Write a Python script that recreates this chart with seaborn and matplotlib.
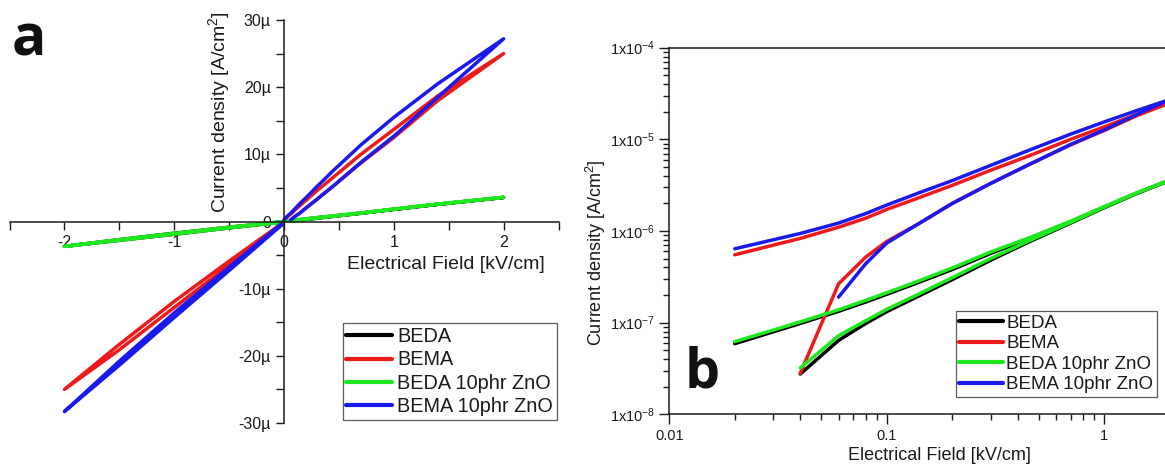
import numpy as np
import pandas as pd
import matplotlib
matplotlib.use("Agg")
import matplotlib.pyplot as plt
from matplotlib.lines import Line2D
from matplotlib.ticker import FixedLocator, MultipleLocator, LogLocator, NullFormatter
import seaborn as sns

sns.set_theme(style="ticks")
plt.rcParams["font.family"] = ["Liberation Sans", "DejaVu Sans"]
plt.rcParams["mathtext.default"] = "regular"

# ---------------- data ----------------
samples = ["BEDA", "BEMA", "BEDA 10phr ZnO", "BEMA 10phr ZnO"]
nan = np.nan

# positive field sweep [kV/cm]
E_pos = [0.02, 0.04, 0.06, 0.08, 0.1, 0.14, 0.2, 0.3, 0.45, 0.7, 1.0, 1.4, 2.0]
# current density [A/cm2], rising field (forward) and falling field (return)
J_beda_fwd = [nan, 2.75e-8, 6.4e-8, 9.8e-8, 1.32e-7, 1.95e-7, 2.95e-7, 4.8e-7, 7.6e-7, 1.22e-6, 1.8e-6, 2.55e-6, 3.58e-6]
J_beda_ret = [5.9e-8, 9.8e-8, 1.33e-7, 1.68e-7, 2.04e-7, 2.75e-7, 3.8e-7, 5.7e-7, 8.2e-7, 1.26e-6, 1.82e-6, 2.57e-6, 3.58e-6]
J_bema_fwd = [nan, 2.8e-8, 2.65e-7, 5.2e-7, 7.7e-7, 1.2e-6, 2.0e-6, 3.3e-6, 5.3e-6, 8.7e-6, 1.25e-5, 1.8e-5, 2.5e-5]
J_bema_ret = [5.5e-7, 8.3e-7, 1.1e-6, 1.38e-6, 1.72e-6, 2.3e-6, 3.15e-6, 4.6e-6, 6.6e-6, 1.0e-5, 1.37e-5, 1.87e-5, 2.5e-5]
J_bedaz_fwd = [nan, 3.2e-8, 7.2e-8, 1.05e-7, 1.4e-7, 2.05e-7, 3.1e-7, 5.0e-7, 7.8e-7, 1.24e-6, 1.82e-6, 2.57e-6, 3.6e-6]
J_bedaz_ret = [6.2e-8, 1.02e-7, 1.38e-7, 1.75e-7, 2.12e-7, 2.85e-7, 3.95e-7, 5.9e-7, 8.4e-7, 1.28e-6, 1.85e-6, 2.6e-6, 3.6e-6]
J_bemaz_fwd = [nan, nan, 1.9e-7, 4.4e-7, 7.4e-7, 1.2e-6, 2.0e-6, 3.3e-6, 5.3e-6, 8.8e-6, 1.27e-5, 1.85e-5, 2.72e-5]
J_bemaz_ret = [6.4e-7, 9.4e-7, 1.22e-6, 1.55e-6, 1.92e-6, 2.6e-6, 3.55e-6, 5.2e-6, 7.6e-6, 1.14e-5, 1.55e-5, 2.05e-5, 2.72e-5]

# negative field sweep [kV/cm]
E_neg = [-0.02, -0.5, -1.0, -1.5, -2.0]
J_beda_nfwd = [-0.05e-6, -0.85e-6, -1.75e-6, -2.7e-6, -3.7e-6]
J_beda_nret = [-0.1e-6, -0.95e-6, -1.9e-6, -2.8e-6, -3.7e-6]
J_bema_nfwd = [-0.3e-6, -5.9e-6, -11.9e-6, -18.3e-6, -25.0e-6]
J_bema_nret = [-0.5e-6, -6.5e-6, -12.8e-6, -19.1e-6, -25.0e-6]
J_bedaz_nfwd = [-0.05e-6, -0.85e-6, -1.75e-6, -2.7e-6, -3.7e-6]
J_bedaz_nret = [-0.1e-6, -0.95e-6, -1.9e-6, -2.8e-6, -3.7e-6]
J_bemaz_nfwd = [-0.3e-6, -6.8e-6, -13.6e-6, -20.8e-6, -28.3e-6]
J_bemaz_nret = [-0.5e-6, -7.3e-6, -14.3e-6, -21.4e-6, -28.3e-6]

x_ticks_a = [-2, -1, 0, 1, 2]
x_tick_labels_a = ["-2", "-1", "0", "1", "2"]
y_ticks_a = [-30, -20, -10, 0, 10, 20, 30]
y_tick_labels_a = ["-30\u00b5", "-20\u00b5", "-10\u00b5", "0", "10\u00b5", "20\u00b5", "30\u00b5"]
x_ticks_b = [0.01, 0.1, 1]
x_tick_labels_b = ["0.01", "0.1", "1"]
y_ticks_b = [1e-8, 1e-7, 1e-6, 1e-5, 1e-4]
y_tick_labels_b = [r"1x10$^{-8}$", r"1x10$^{-7}$", r"1x10$^{-6}$", r"1x10$^{-5}$", r"1x10$^{-4}$"]

colors = ["#000000", "#ee1a1a", "#1ee81e", "#1a1aee"]

fwd = [J_beda_fwd, J_bema_fwd, J_bedaz_fwd, J_bemaz_fwd]
ret = [J_beda_ret, J_bema_ret, J_bedaz_ret, J_bemaz_ret]
nfwd = [J_beda_nfwd, J_bema_nfwd, J_bedaz_nfwd, J_bemaz_nfwd]
nret = [J_beda_nret, J_bema_nret, J_bedaz_nret, J_bemaz_nret]

# long tables
loop_rows, branch_rows = [], []
for s, jf, jr, jnf, jnr in zip(samples, fwd, ret, nfwd, nret):
    seq = []
    seq += [(e, j) for e, j in zip(E_pos, jf) if not np.isnan(j)]
    seq += [(e, j) for e, j in zip(E_pos[::-1], jr[::-1])]
    seq += [(e, j) for e, j in zip(E_neg, jnf)]
    seq += [(e, j) for e, j in zip(E_neg[::-1], jnr[::-1])]
    for k, (e, j) in enumerate(seq):
        loop_rows.append(dict(sample=s, E=e, J=j * 1e6, order=k))
    for br, arr in (("forward", jf), ("return", jr)):
        for e, j in zip(E_pos, arr):
            if not np.isnan(j):
                branch_rows.append(dict(sample=s, branch=br, E=e, J=j))
loop_df = pd.DataFrame(loop_rows)
branch_df = pd.DataFrame(branch_rows)

W, H = 1165, 468
fig = plt.figure(figsize=(W / 100, H / 100), dpi=100)
txt = "#1a1a1a"
lw = 2.5

# ---------------- panel a ----------------
ax1 = fig.add_axes([9.5 / W, 45 / H, 549 / W, 403 / H])
sns.lineplot(data=loop_df, x="E", y="J", hue="sample", hue_order=samples,
             palette=colors, sort=False, estimator=None, lw=lw, legend=False, ax=ax1)
ax1.set_xlim(-2.5, 2.5)
ax1.set_ylim(-30, 30)
for sp in ("top", "right"):
    ax1.spines[sp].set_visible(False)
ax1.spines["left"].set_position("zero")
ax1.spines["bottom"].set_position("zero")
for sp in ("left", "bottom"):
    ax1.spines[sp].set_linewidth(1.1)
    ax1.spines[sp].set_color(txt)
ax1.xaxis.set_major_locator(FixedLocator(x_ticks_a))
ax1.set_xticklabels(x_tick_labels_a)
ax1.xaxis.set_minor_locator(MultipleLocator(0.5))
ax1.yaxis.set_major_locator(FixedLocator(y_ticks_a))
ax1.set_yticklabels(y_tick_labels_a)
ax1.yaxis.set_minor_locator(MultipleLocator(5))
ax1.tick_params(which="both", direction="out", length=6, width=1, colors=txt,
                labelsize=11.5, bottom=True, left=True)
ax1.set_xlabel("Electrical Field [kV/cm]", fontsize=14, color=txt)
ax1.set_ylabel("Current density [A/cm$^2$]", fontsize=14, color=txt)
ax1.xaxis.set_label_coords(0.795, 0.414)
ax1.yaxis.set_label_coords(0.405, 0.772)

handles = [Line2D([], [], color=c, lw=3) for c in colors]
leg1 = ax1.legend(handles, samples, loc="lower right", bbox_to_anchor=(0.997, 0.007),
                  borderaxespad=0, fontsize=14.3, frameon=True, fancybox=False,
                  edgecolor="#333333", handlelength=2.3, handletextpad=0.25,
                  labelspacing=0.22, borderpad=0.2)
leg1.get_frame().set_linewidth(0.9)
for t in leg1.get_texts():
    t.set_color(txt)

fig.text(12 / W, (H - 55) / H, "a", fontsize=41, fontweight="bold",
         family=["Open Sans", "DejaVu Sans"], ha="left", va="baseline", color="#111111")

# ---------------- panel b ----------------
ax2 = fig.add_axes([669.3 / W, (H - 414.3) / H, (W - 669.3) / W, 366.6 / H])
sns.lineplot(data=branch_df, x="E", y="J", hue="sample", hue_order=samples,
             units="branch", palette=colors, sort=False, estimator=None,
             lw=lw, legend=False, ax=ax2)
ax2.set_xscale("log")
ax2.set_yscale("log")
ax2.set_xlim(0.01, 10 ** 0.279)
ax2.set_ylim(1e-8, 1e-4)
ax2.spines["right"].set_visible(False)
for sp in ("left", "bottom", "top"):
    ax2.spines[sp].set_linewidth(1.1)
    ax2.spines[sp].set_color(txt)
ax2.xaxis.set_major_locator(FixedLocator(x_ticks_b))
ax2.set_xticklabels(x_tick_labels_b)
ax2.xaxis.set_minor_locator(LogLocator(base=10, subs=np.arange(2, 10)))
ax2.xaxis.set_minor_formatter(NullFormatter())
ax2.yaxis.set_major_locator(FixedLocator(y_ticks_b))
ax2.set_yticklabels(y_tick_labels_b)
ax2.yaxis.set_minor_locator(LogLocator(base=10, subs=np.arange(2, 10)))
ax2.yaxis.set_minor_formatter(NullFormatter())
ax2.tick_params(which="major", direction="out", length=7, width=1, colors=txt,
                labelsize=10.5, bottom=True, left=True, top=False, right=False)
ax2.tick_params(which="minor", direction="out", length=4, width=1, colors=txt,
                bottom=True, left=True, top=False, right=False)
ax2.set_xlabel("Electrical Field [kV/cm]", fontsize=13, color=txt)
ax2.set_ylabel("Current density [A/cm$^2$]", fontsize=13, color=txt)
ax2.xaxis.set_label_coords(0.544, -0.089)
ax2.yaxis.set_label_coords(-0.124, 0.44)

leg2 = ax2.legend(handles, samples, loc="lower right", bbox_to_anchor=(0.984, 0.047),
                  borderaxespad=0, fontsize=13.5, frameon=True, fancybox=False,
                  edgecolor="#333333", handlelength=2.3, handletextpad=0.2,
                  labelspacing=0.18, borderpad=0.2)
leg2.get_frame().set_linewidth(0.9)
for t in leg2.get_texts():
    t.set_color(txt)

fig.text(685 / W, (H - 387) / H, "b", fontsize=40, fontweight="bold",
         family=["Open Sans", "DejaVu Sans"], ha="left", va="baseline", color="#111111")

fig.savefig("out.png", dpi=100)
